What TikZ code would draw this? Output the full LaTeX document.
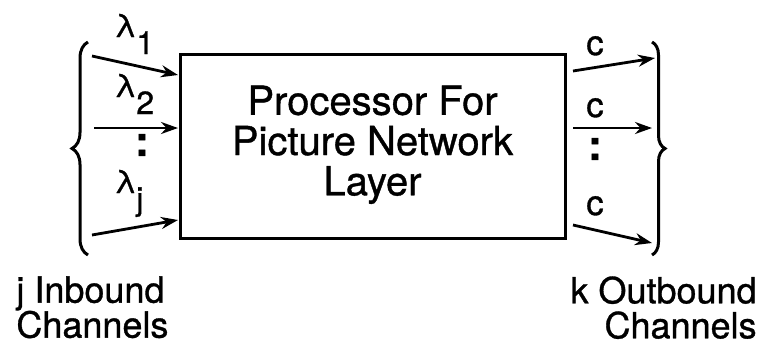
\documentclass[tikz,border=0pt]{standalone}
\usepackage{fontspec}
\setmainfont{TeX Gyre Heros}[FakeBold=0.9]
\usetikzlibrary{arrows.meta,decorations.pathreplacing}

\newcommand{\lam}[1]{λ\raisebox{-17pt}{#1}}

\begin{document}
\begin{tikzpicture}[x=1pt, y=-1pt, -{Stealth[length=17pt,width=12pt]}, line width=2.8pt,
      every node/.append style={inner sep=0pt},
      brace/.style={-,line width=3pt,decorate,decoration={brace,amplitude=#1}},
      rate/.style={anchor=base west,font=\fontsize{32}{32}\selectfont},
      capacity/.style={anchor=base,font=\fontsize{35}{35}\selectfont},
      more/.style={font=\fontsize{42}{42}\bfseries\selectfont},
      chan/.style={font=\fontsize{36}{35}\selectfont}]
      \useasboundingbox (0,0) rectangle (761,346);
      \node (Processor) [draw, line width=3pt, minimum width=385pt, minimum height=184pt,
        font=\fontsize{40}{37}\selectfont] at (372.5,146)
        {\raisebox{6pt}{\begin{tabular}{@{}c@{}}Processor For\\Picture Network\\Layer\end{tabular}}};
      \coordinate (in1) at (92,56);   \coordinate (to1) at (178,75);
      \coordinate (in2) at (94,128);  \coordinate (to2) at (178,128);
      \coordinate (inj) at (92,235);  \coordinate (toj) at (178,220);
      \coordinate (from1) at (573,71);  \coordinate (out1) at (655,58);
      \coordinate (from2) at (573,128); \coordinate (out2) at (652,128);
      \coordinate (fromk) at (573,225); \coordinate (outk) at (652,243);
      \draw (in1) -- (to1);
      \draw (in2) -- (to2);
      \draw (inj) -- (toj);
      \draw (from1) -- (out1);
      \draw (from2) -- (out2);
      \draw (fromk) -- (outk);
      \node (lambda1) [rate] at (113,37) {\lam{1}};
      \node (lambda2) [rate] at (113,97) {\lam{2}};
      \node (lambdaj) [rate] at (113,193) {\lam{j}};
      \node (inmore) [more] at (142,145) {:};
      \node (c1) [capacity] at (595,55) {c};
      \node (c2) [capacity] at (595,117) {c};
      \node (ck) [capacity] at (595,215) {c};
      \node (outmore) [more] at (595,149) {:};
      \draw[brace=16pt] (88,255) -- (88,42);
      \draw[brace=13pt] (652,42) -- (652,255);
      \node (Inbound) [chan, align=left, anchor=north west] at (15,275) {j Inbound\\Channels};
      \node (Outbound) [chan, align=right, anchor=north east] at (758,275) {k Outbound\\Channels};
  \end{tikzpicture}
\end{document}
